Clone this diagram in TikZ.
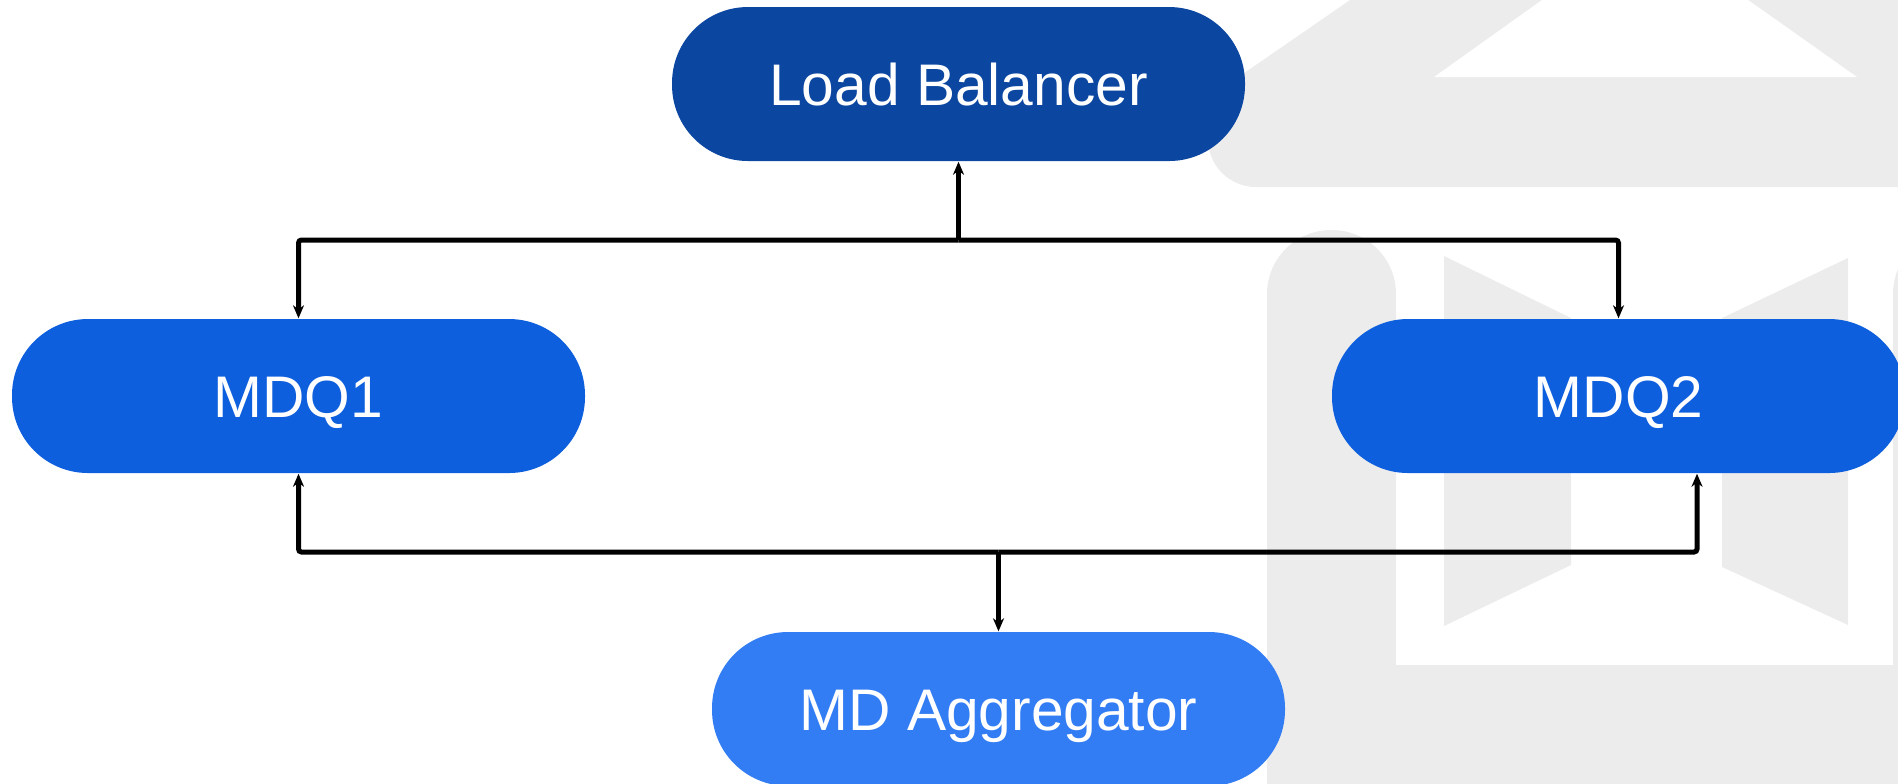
\documentclass[tikz,border=0pt]{standalone}
\usepackage{fontspec}
\setmainfont{Liberation Sans}
\usetikzlibrary{arrows.meta,positioning}

\definecolor{lbblue}{HTML}{0B46A0}
\definecolor{mdqblue}{HTML}{0E5FDE}
\definecolor{aggblue}{HTML}{337DF4}
\definecolor{wmgray}{HTML}{ECECEC}

\begin{document}
\begin{tikzpicture}[x=0.1mm, y=-0.1mm,
  box/.style={rectangle, rounded corners=7.6mm, minimum width=57.3mm, minimum height=15.4mm,
    inner sep=0pt, text=white, text height=4.2mm, text depth=0pt,
    font=\fontsize{16.7pt}{20pt}\selectfont},
  link/.style={-{Stealth[length=1.3mm,width=1.1mm,inset=0.4mm]}, line width=0.5mm, rounded corners=0.3mm},
  wm/.style={fill=wmgray}]

\useasboundingbox (0,0) rectangle (1898,783);
\clip (0,0) rectangle (1898,783);

% watermark
\fill[wm, rounded corners=4.8mm] (1208,98) -- (1495,-100) -- (2000,-100) -- (2000,187) -- (1208,187) -- cycle;
\fill[white] (1434,77) -- (1556,-10) -- (1734,-10) -- (1857,77) -- cycle;
\fill[wm, rounded corners=6.4mm] (1267,900) -- (1267,230) -- (1396,230) -- (1396,900) -- cycle;
\fill[wm, rounded corners=6.4mm] (1893,900) -- (1893,230) -- (2022,230) -- (2022,900) -- cycle;
\fill[wm] (1267,665) rectangle (2000,900);
\fill[wm] (1444,256) -- (1571,318) -- (1571,565) -- (1444,626) -- cycle;
\fill[wm] (1722,318) -- (1848,258) -- (1848,625) -- (1722,567) -- cycle;

\node[box, fill=lbblue] (lb) at (958.5,84) {Load Balancer};
\node[box, fill=mdqblue] (mdq1) at (298.5,396) {MDQ1};
\node[box, fill=mdqblue] (mdq2) at (1618.5,396) {MDQ2};
\node[box, fill=aggblue] (agg) at (998.5,709) {MD Aggregator};

\coordinate (upj) at (958.5,240);
\coordinate (lowj) at (998.5,552);

\draw[link] (upj) -- (lb);
\draw[link] (upj) -| (mdq1);
\draw[link] (upj) -| (mdq2);
\draw[link] (lowj) -- (agg);
\draw[link] (lowj) -| (mdq1);
\draw[link] (lowj) -| ([xshift=7.85mm]mdq2.south);

\end{tikzpicture}
\end{document}
